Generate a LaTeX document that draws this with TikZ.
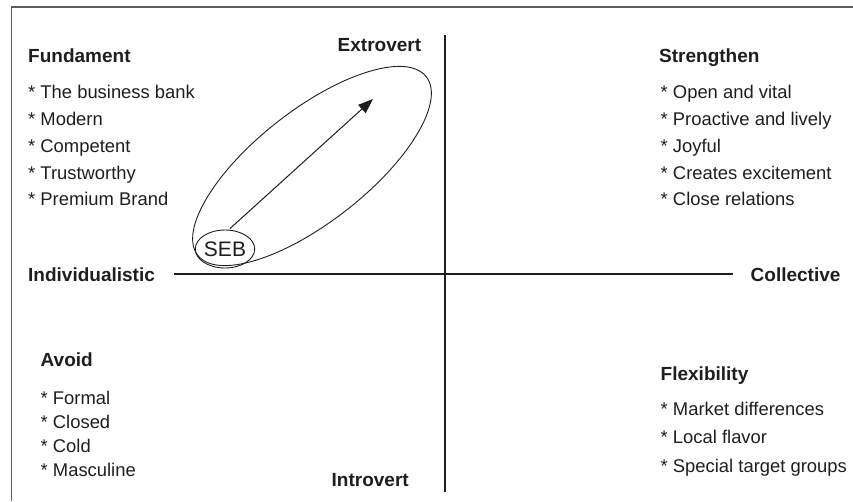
\documentclass[tikz,border=0pt]{standalone}
\usepackage{fontspec}
\setmainfont{Liberation Sans}
\usepackage{tikz}
\usetikzlibrary{arrows.meta,positioning,shapes.geometric}
\definecolor{ink}{HTML}{1E1E1E}
\definecolor{bk70}{HTML}{5C5C5C}
\tikzset{
  heading/.style={
    anchor=base west, inner sep=0pt, text=ink,
    font=\fontsize{19}{22}\selectfont\bfseries
  },
  item/.style={
    anchor=base west, inner sep=0pt, text=ink,
    font=\fontsize{18.4}{22}\selectfont
  },
  axisline/.style={line width=1.1pt, color=ink},
  frameline/.style={line width=1.4pt, color=bk70},
  region/.style={draw=ink, line width=0.9pt, ellipse, inner sep=0pt},
  trend/.style={-{Triangle[length=15pt,width=11pt]}, line width=1pt, color=ink},
}

\begin{document}
\begin{tikzpicture}[x=1pt, y=-1pt]
  \useasboundingbox (0,0) rectangle (853,501);

  % open frame (left and top only)
  \draw[frameline] (11.5,501) |- (853,7);

  % axes
  \node[heading] (indiv) at (28,281.7) {Individualistic};
  \node[heading] (coll) at (750.5,281.7) {Collective};
  \node[heading] (extro) at (337.5,51.7) {Extrovert};
  \node[heading] (intro) at (331.5,486) {Introvert};
  \coordinate (axW) at (174,274);
  \coordinate (axE) at (733,274);
  \coordinate (axN) at (445,35);
  \coordinate (axS) at (445,492);
  \draw[axisline] (axW) -- (axE);
  \draw[axisline] (axN) -- (axS);

  % quadrant headings
  \node[heading] (fund) at (28,62.3) {Fundament};
  \node[heading] (stren) at (659,62.3) {Strengthen};
  \node[heading] (avoid) at (40.5,366.7) {Avoid};
  \node[heading] (flex) at (660.5,380) {Flexibility};

  % quadrant lists
  \foreach \txt [count=\i] in {The business bank, Modern, Competent, Trustworthy, Premium Brand}
    \node[item] (fund\i) at (28,{98.3+26.9*(\i-1)}) {* \txt};
  \foreach \txt [count=\i] in {Open and vital, Proactive and lively, Joyful, Creates excitement, Close relations}
    \node[item] (stren\i) at (660.5,{98.3+26.9*(\i-1)}) {* \txt};
  \foreach \txt [count=\i] in {Formal, Closed, Cold, Masculine}
    \node[item] (avoid\i) at (40.5,{404+24.2*(\i-1)}) {* \txt};
  \foreach \txt [count=\i] in {Market differences, Local flavor, Special target groups}
    \node[item] (flex\i) at (660.5,{415+28.9*(\i-1)}) {* \txt};

  % SEB and its move towards extrovert
  \node[region, rotate=38, minimum width=290pt, minimum height=112pt] (zone) at (312,166) {};
  \node[region, minimum width=54pt, minimum height=38pt,
        font=\fontsize{21}{24}\selectfont, text=ink] (seb) at (225,249) {SEB};
  \coordinate (peak) at (373,99);
  \draw[trend] ([xshift=5pt,yshift=1pt]seb.north) -- (peak);
\end{tikzpicture}
\end{document}
